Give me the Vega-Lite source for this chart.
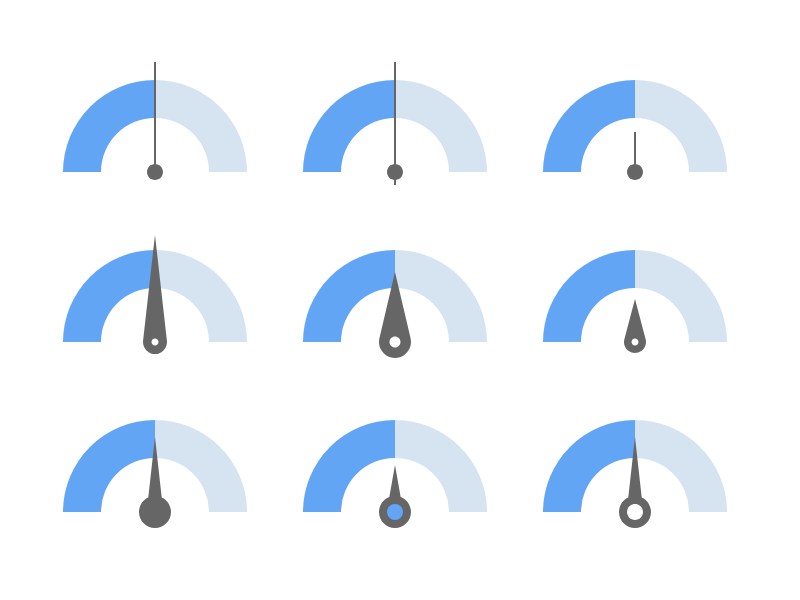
{
  "$schema": "https://vega.github.io/schema/vega-lite/v6.json",
  "width": 800,
  "height": 600,
  "autosize": {"type": "fit", "contains": "padding"},
  "padding": 0,
  "background": "white",
  "config": {"view": {"stroke": null}},
  "data": {
    "values": [
      {"gauge": 1, "row": 0, "col": 0, "min": 0, "max": 100, "value": 50, "needle": "line"},
      {"gauge": 2, "row": 0, "col": 1, "min": 0, "max": 100, "value": 50, "needle": "line-through"},
      {"gauge": 3, "row": 0, "col": 2, "min": 0, "max": 100, "value": 50, "needle": "line-short"},
      {"gauge": 4, "row": 1, "col": 0, "min": 0, "max": 100, "value": 50, "needle": "tear-long"},
      {"gauge": 5, "row": 1, "col": 1, "min": 0, "max": 100, "value": 50, "needle": "tear-wide"},
      {"gauge": 6, "row": 1, "col": 2, "min": 0, "max": 100, "value": 50, "needle": "tear-short"},
      {"gauge": 7, "row": 2, "col": 0, "min": 0, "max": 100, "value": 50, "needle": "disc"},
      {"gauge": 8, "row": 2, "col": 1, "min": 0, "max": 100, "value": 50, "needle": "disc-short"},
      {"gauge": 9, "row": 2, "col": 2, "min": 0, "max": 100, "value": 50, "needle": "ring"}
    ]
  },
  "encoding": {
    "x": {
      "field": "col",
      "type": "quantitative",
      "scale": {"domain": [-0.6458, 2.6875], "nice": false, "zero": false},
      "axis": null
    },
    "y": {
      "field": "row",
      "type": "quantitative",
      "scale": {"domain": [-1.01176, 2.51765], "reverse": true, "nice": false, "zero": false},
      "axis": null
    }
  },
  "layer": [
    {
      "mark": {"type": "arc", "outerRadius": 92, "innerRadius": 54, "color": "#63a5f5"},
      "encoding": {
        "theta": {
          "field": "min",
          "type": "quantitative",
          "stack": null,
          "scale": {"domain": [0, 100], "range": [-1.5707963, 1.5707963]}
        },
        "theta2": {"field": "value"}
      }
    },
    {
      "mark": {"type": "arc", "outerRadius": 92, "innerRadius": 54, "color": "#d6e3f0"},
      "encoding": {
        "theta": {"field": "value", "type": "quantitative", "stack": null},
        "theta2": {"field": "max"}
      }
    },
    {
      "mark": {"type": "point", "filled": true, "opacity": 1, "strokeWidth": 0, "color": "#666666"},
      "encoding": {
        "shape": {
          "field": "needle",
          "type": "nominal",
          "legend": null,
          "scale": {
            "domain": ["line", "line-through", "line-short", "tear-long", "tear-wide", "tear-short", "disc", "disc-short", "ring"],
            "range": [
              "M-1,0 L-1,-110 L1,-110 L1,0 Z M8,0 A8,8 0 1,1 -8,0 A8,8 0 1,1 8,0 Z",
              "M-1,13 L-1,-110 L1,-110 L1,13 Z M8,0 A8,8 0 1,1 -8,0 A8,8 0 1,1 8,0 Z",
              "M-1,0 L-1,-40 L1,-40 L1,0 Z M8,0 A8,8 0 1,1 -8,0 A8,8 0 1,1 8,0 Z",
              "M0,-107 L11.92,-1.35 A12,12 0 1,1 -11.92,-1.35 Z M3.5,0 A3.5,3.5 0 1,0 -3.5,0 A3.5,3.5 0 1,0 3.5,0 Z",
              "M0,-70 L15.58,-3.66 A16,16 0 1,1 -15.58,-3.66 Z M5.5,0 A5.5,5.5 0 1,0 -5.5,0 A5.5,5.5 0 1,0 5.5,0 Z",
              "M0,-43 L10.63,-2.81 A11,11 0 1,1 -10.63,-2.81 Z M3.5,0 A3.5,3.5 0 1,0 -3.5,0 A3.5,3.5 0 1,0 3.5,0 Z",
              "M0,-75 L7,-12 L-7,-12 Z M16,0 A16,16 0 1,1 -16,0 A16,16 0 1,1 16,0 Z",
              "M0,-47 L6,-13 L-6,-13 Z M16,0 A16,16 0 1,1 -16,0 A16,16 0 1,1 16,0 Z",
              "M0,-75 L7,-12 L-7,-12 Z M16,0 A16,16 0 1,1 -16,0 A16,16 0 1,1 16,0 Z M8,0 A8,8 0 1,0 -8,0 A8,8 0 1,0 8,0 Z"
            ]
          }
        },
        "size": {"value": 4},
        "angle": {
          "field": "value",
          "type": "quantitative",
          "scale": {"domain": [0, 100], "range": [-90, 90]}
        }
      }
    },
    {
      "transform": [{"filter": "datum.needle === 'disc-short'"}],
      "mark": {"type": "point", "shape": "circle", "filled": true, "opacity": 1, "strokeWidth": 0, "color": "#63a5f5"},
      "encoding": {"size": {"value": 256}}
    }
  ]
}
